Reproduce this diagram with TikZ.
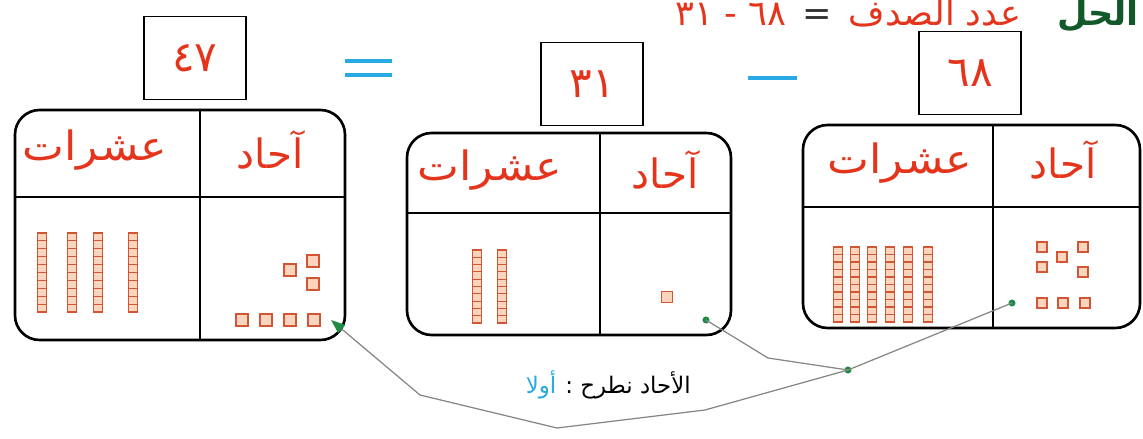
\documentclass[tikz,border=0pt]{standalone}
\usepackage{fontspec}
\newfontfamily\arabicfont[Script=Arabic]{DejaVu Sans}
\TeXXeTstate=1
\usetikzlibrary{arrows.meta,positioning}
\definecolor{inkred}{RGB}{228,52,28}
\definecolor{rodred}{RGB}{210,86,52}
\definecolor{rodfill}{RGB}{250,212,188}
\definecolor{signblue}{RGB}{42,170,228}
\definecolor{linkgray}{RGB}{128,136,128}
\definecolor{dotgreen}{RGB}{30,140,70}
\definecolor{solgreen}{RGB}{18,88,40}
\tikzset{
  numbox/.style={draw=black,line width=1pt,minimum width=2.04cm,minimum height=1.66cm,font=\arabicfont\fontsize{24}{26}\selectfont,text=inkred},
  tablebox/.style={draw=black,line width=1.5pt,rounded corners=14pt},
  rule/.style={draw=black,line width=0.8pt},
  head/.style={font=\arabicfont\fontsize{23}{25}\selectfont,text=inkred},
  sumtext/.style={font=\arabicfont\fontsize{20}{22}\selectfont,text=inkred,inner sep=1pt,anchor=base},
  sign/.style={draw=signblue,line width=2.6pt},
  cube/.style={draw=rodred,fill=rodfill,line width=0.6pt},
  link/.style={draw=linkgray,line width=0.7pt},
  greendot/.style={circle,fill=dotgreen,inner sep=0pt,minimum size=4pt},
  note/.style={font=\arabicfont\fontsize{13}{15}\selectfont,inner sep=1pt}
}
% one rod of ten, and one unit cube
\newcommand\tenrod[3]{%
  \foreach \k in {0,...,9}
    \draw[cube] ({#1-4.5},{#2+\k*(#3-#2)/10}) rectangle ++(9,{(#3-#2)/10});}
\newcommand\onecube[3]{%
  \draw[cube] ({#1-#3/2},{#2-#3/2}) rectangle ++(#3,#3);}
\begin{document}
\begin{tikzpicture}[x=0.02cm,y=-0.02cm,node distance=0.25cm]
\useasboundingbox (0,0) rectangle (1143,439);
% heading
\node[sumtext] (sumword) at (935,26) {\beginR عدد الصدف\endR};
\node[sumtext,text=black!80,left=of sumword.base west,anchor=base east] (sumeq) {=};
\node[sumtext,left=of sumeq.base west,anchor=base east] (sumnum) {\beginR\beginL ٦٨\endL{} - \beginL٣١\endL\endR};
\node[sumtext,font=\arabicfont\bfseries\fontsize{20}{22}\selectfont,text=solgreen] (soltag) at (1098,26) {\beginR الحل\endR};
% numbers and signs
\node[numbox] (numL) at (195,58) {٤٧};
\node[numbox] (numM) at (592,84) {٣١};
\node[numbox] (numR) at (970,73) {٦٨};
\draw[sign] (345,61) -- (392,61) (345,75) -- (392,75);
\draw[sign] (748,78) -- (797,78);
% place-value tables
\draw[tablebox] (15,110) rectangle (345,340);
\draw[rule] (200,110) -- (200,340) (15,197) -- (345,197);
\draw[tablebox] (407,133) rectangle (731,335);
\draw[rule] (600,133) -- (600,335) (407,213) -- (731,213);
\draw[tablebox] (803,125) rectangle (1140,328);
\draw[rule] (993,125) -- (993,328) (803,207) -- (1140,207);
\node[head,xscale=1.1] (tensL) at (95,150) {\beginR عشرات\endR};
\node[head] (onesL) at (270,150) {\beginR آحاد\endR};
\node[head,xscale=1.1] (tensM) at (490,170) {\beginR عشرات\endR};
\node[head] (onesM) at (665,170) {\beginR آحاد\endR};
\node[head,xscale=1.1] (tensR) at (900,163) {\beginR عشرات\endR};
\node[head] (onesR) at (1063,160) {\beginR آحاد\endR};
% tens
\foreach \x in {42,72,98,133} \tenrod{\x}{233}{312};
\foreach \x in {477,502} \tenrod{\x}{250}{323};
\foreach \x in {838,855,872,890,908,928} \tenrod{\x}{247}{322};
% ones
\foreach \x/\y in {242/320,266/320,290/320,314/320,290/270,313/261,313/284} \onecube{\x}{\y}{12};
\onecube{667}{297}{11};
\foreach \x/\y in {1042/247,1083/247,1062/257,1042/267,1083/272,1042/303,1063/303,1085/303} \onecube{\x}{\y}{10};
% subtracting the ones
\node[greendot] (dotR) at (1012,303) {};
\node[greendot] (dotM) at (706,320) {};
\node[greendot] (join) at (848,370) {};
\coordinate (bendM) at (768,358);
\coordinate (k1) at (420,395);
\coordinate (k2) at (557,428);
\coordinate (k3) at (705,410);
\coordinate (tipL) at (331,320);
\draw[link] (dotM.center) -- (bendM) -- (join.center);
\draw[link,{Triangle[length=8pt,width=6pt,color=dotgreen]}-] (tipL) -- (k1) -- (k2) -- (k3) -- (join.center) -- (dotR.center);
\node[note,text=signblue] (firstw) at (541,385) {\beginR أولا\endR};
\node[note,right=0.1cm of firstw] (step1) {\beginR الأحاد نطرح :\endR};
\end{tikzpicture}
\end{document}
